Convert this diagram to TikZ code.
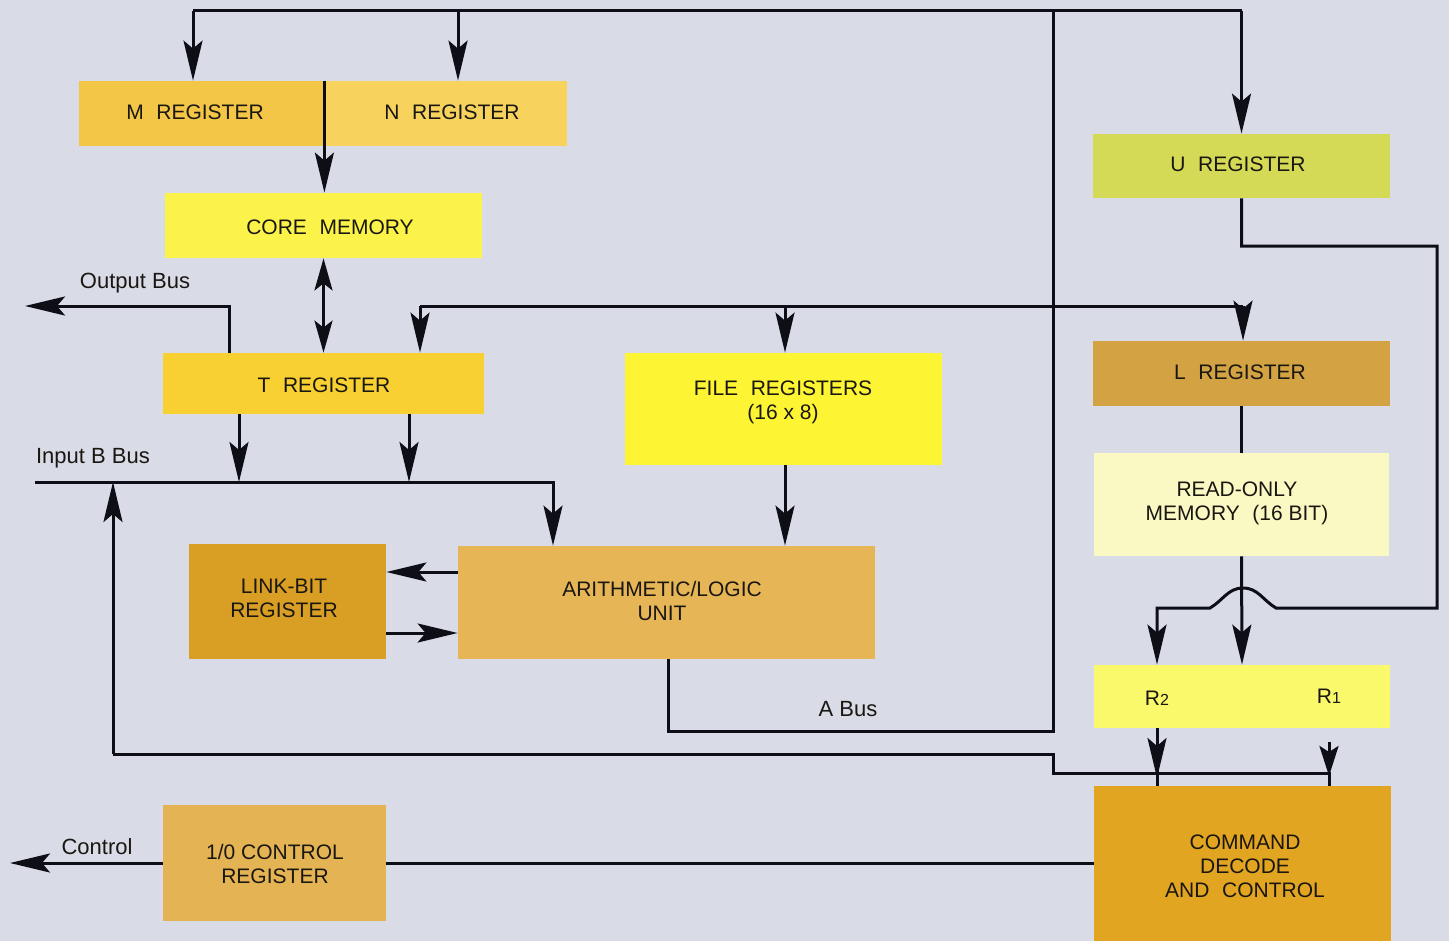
\documentclass[tikz,border=0pt]{standalone}
\usepackage{fontspec}
\setmainfont{Liberation Sans}
\usetikzlibrary{arrows.meta}
\definecolor{bg}{HTML}{D9DBE6}
\definecolor{txt}{HTML}{1A1712}
\definecolor{wirec}{HTML}{0E0E16}
\definecolor{cM}{HTML}{F4C648}
\definecolor{cN}{HTML}{F7D35E}
\definecolor{cCore}{HTML}{FBF34A}
\definecolor{cT}{HTML}{F8D032}
\definecolor{cFile}{HTML}{FDF433}
\definecolor{cLink}{HTML}{D89F24}
\definecolor{cALU}{HTML}{E5B556}
\definecolor{cIO}{HTML}{E4B454}
\definecolor{cU}{HTML}{D5DA56}
\definecolor{cL}{HTML}{D3A243}
\definecolor{cROM}{HTML}{FAF9C4}
\definecolor{cRR}{HTML}{FAF86B}
\definecolor{cCmd}{HTML}{E2A522}
\newcommand\wsp{\hspace{0.6em}}
\begin{document}
\begin{tikzpicture}[x=0.5pt,y=-0.5pt,
  box/.style={inner sep=0pt},
  btxt/.style={inner sep=0pt, align=center, text=txt, font=\fontsize{10.5}{12}\selectfont},
  lbl/.style={inner sep=0pt, text=txt, font=\fontsize{11}{13}\selectfont},
  wire/.style={line width=1.5pt, draw=wirec},
  arr/.style={wire, -{Stealth[length=20pt,width=9.5pt,inset=4pt]}},
  sarr/.style={wire, -{Stealth[length=15pt,width=9.5pt,inset=3pt]}},
  dbl/.style={wire, {Stealth[length=16pt,width=9pt,inset=3.5pt]}-{Stealth[length=16pt,width=9pt,inset=3.5pt]}}]
\useasboundingbox (0,0) rectangle (1449,941);
\fill[bg] (0,0) rectangle (1449,941);

% boxes
\node[box, fill=cM, minimum width=122.5pt, minimum height=32.5pt] (mreg) at (201.5,113.5) {};
\node[box, fill=cN, minimum width=121.5pt, minimum height=32.5pt] (nreg) at (445.5,113.5) {};
\node[box, fill=cCore, minimum width=158.5pt, minimum height=32.5pt] (core) at (323.5,225.5) {};
\node[box, fill=cT, minimum width=160.5pt, minimum height=30.5pt] (treg) at (323.5,383.5) {};
\node[box, fill=cFile, minimum width=158.5pt, minimum height=56pt] (file) at (783.5,409) {};
\node[box, fill=cLink, minimum width=98.5pt, minimum height=57.5pt] (link) at (287.5,601.5) {};
\node[box, fill=cALU, minimum width=208.5pt, minimum height=56.5pt] (alu) at (666.5,602.5) {};
\node[box, fill=cIO, minimum width=111.5pt, minimum height=58pt] (io) at (274.5,863) {};
\node[box, fill=cU, minimum width=148.5pt, minimum height=32pt] (ureg) at (1241.5,166) {};
\node[box, fill=cL, minimum width=148.5pt, minimum height=32.5pt] (lreg) at (1241.5,373.5) {};
\node[box, fill=cROM, minimum width=147.5pt, minimum height=51.5pt] (rom) at (1241.5,504.5) {};
\node[box, fill=cRR, minimum width=148pt, minimum height=31.5pt] (rr) at (1242,696.5) {};
\node[box, fill=cCmd, minimum width=148.5pt, minimum height=79.5pt] (cmd) at (1242.5,865.5) {};

% box texts
\node[btxt] (mregT) at (195,112) {M\wsp REGISTER};
\node[btxt] (nregT) at (452,112) {N\wsp REGISTER};
\node[btxt] (coreT) at (330,227) {CORE\wsp MEMORY};
\node[btxt] (tregT) at (324,385) {T\wsp REGISTER};
\node[btxt] (fileT) at (783,402) {FILE\wsp REGISTERS\\(16 x 8)};
\node[btxt] (linkT) at (284,598) {LINK-BIT\\REGISTER};
\node[btxt] (aluT) at (662,601) {ARITHMETIC/LOGIC\\UNIT};
\node[btxt] (ioT) at (275,864) {1/0 CONTROL\\REGISTER};
\node[btxt] (uregT) at (1238,164) {U\wsp REGISTER};
\node[btxt] (lregT) at (1240,372) {L\wsp REGISTER};
\node[btxt] (romT) at (1237,503) {READ-ONLY\\MEMORY\wsp(16 BIT)};
\node[btxt] (cmdT) at (1245,866) {COMMAND\\DECODE\\AND\wsp CONTROL};
\node[btxt] (r2) at (1157,698) {R{\fontsize{8}{8}\selectfont 2}};
\node[btxt] (r1) at (1329,696) {R{\fontsize{8}{8}\selectfont 1}};

% labels
\node[lbl] (lout) at (135,283) {Output Bus};
\node[lbl] (linb) at (93,458) {Input B Bus};
\node[lbl] (labus) at (848,709) {A Bus};
\node[lbl] (lctl) at (97,847) {Control};

% coordinates
\coordinate (tbL) at (193,11);
\coordinate (tbN) at (458,11);
\coordinate (tbA) at (1053,11);
\coordinate (tbR) at (1241.5,11);
\coordinate (ob) at (229,306);
\coordinate (obend) at (25,306);
\coordinate (mbL) at (420,306);
\coordinate (mbR) at (1243,306);
\coordinate (mbF) at (785,306);
\coordinate (ib1) at (239,482);
\coordinate (ib2) at (409,482);
\coordinate (ibL) at (35,482);
\coordinate (ibA) at (553,482);
\coordinate (ibU) at (113,482);
\coordinate (rb1) at (113,754);
\coordinate (rb2) at (1053,754);
\coordinate (rb3) at (1053,773);
\coordinate (rb4) at (1329,773);
\coordinate (ab1) at (668,731);
\coordinate (ab2) at (1053,731);
\coordinate (u1) at (1241.5,246);
\coordinate (u2) at (1437,246);
\coordinate (u3) at (1437,608);
\coordinate (h1) at (1276,608);
\coordinate (htop) at (1243,588);
\coordinate (h2) at (1210,608);
\coordinate (u4) at (1157,608);
\coordinate (ctlend) at (10,863);

% top bus
\draw[wire] (tbL) -- (tbR);
\draw[arr] (tbL) -- (tbL |- mreg.north);
\draw[arr] (tbN) -- (tbN |- nreg.north);
\draw[arr] (tbR) -- (ureg.north);
% M/N to core
\draw[arr] (mreg.north east) -- (mreg.north east |- core.north);
% core <-> T
\draw[dbl] (core.south) -- (treg.north);
% output bus
\draw[arr] (treg.north -| ob) -- (ob) -- (obend);
% middle bus
\draw[wire] (mbL) -- (mbR);
\draw[arr] (mbL) -- (mbL |- treg.north);
\draw[arr] (mbF) -- (mbF |- file.north);
\draw[arr] (mbR) -- (mbR |- lreg.north);
% T to input B bus
\draw[arr] (treg.south -| ib1) -- (ib1);
\draw[arr] (treg.south -| ib2) -- (ib2);
% input B bus
\draw[arr] (ibL) -- (ibA) -- (ibA |- alu.north);
% file to alu
\draw[arr] (file.south -| mbF) -- (mbF |- alu.north);
% link bit
\draw[arr] (alu.west |- 0,572) -- (link.east |- 0,572);
\draw[arr] (link.east |- 0,633) -- (alu.west |- 0,633);
% A bus
\draw[wire] (alu.south -| ab1) -- (ab1) -- (ab2) -- (tbA);
% return bus to input B
\draw[wire] (rb1) -- (rb2) -- (rb3) -- (rb4) -- (rb4 |- cmd.north);
\draw[arr] (rb1) -- (ibU);
% U loop to R2 (hop over ROM line)
\draw[arr] (ureg.south) -- (u1) -- (u2) -- (u3) -- (h1)
  to[out=150,in=0] (htop) to[out=180,in=30] (h2) -- (u4) -- (u4 |- rr.north);
% L -> ROM -> RR
\draw[wire] (lreg.south) -- (rom.north);
\draw[arr] (rom.south) -- (rr.north);
% RR -> command
\draw[arr] (rr.south -| u4) -- (1157,778);
\draw[wire] (1157,770) -- (u4 |- cmd.north);
\draw[sarr] (1329,742) -- (1329,776);
% command -> IO -> control
\draw[wire] (cmd.west |- io.east) -- (io.east);
\draw[arr] (io.west) -- (ctlend);
\end{tikzpicture}
\end{document}
